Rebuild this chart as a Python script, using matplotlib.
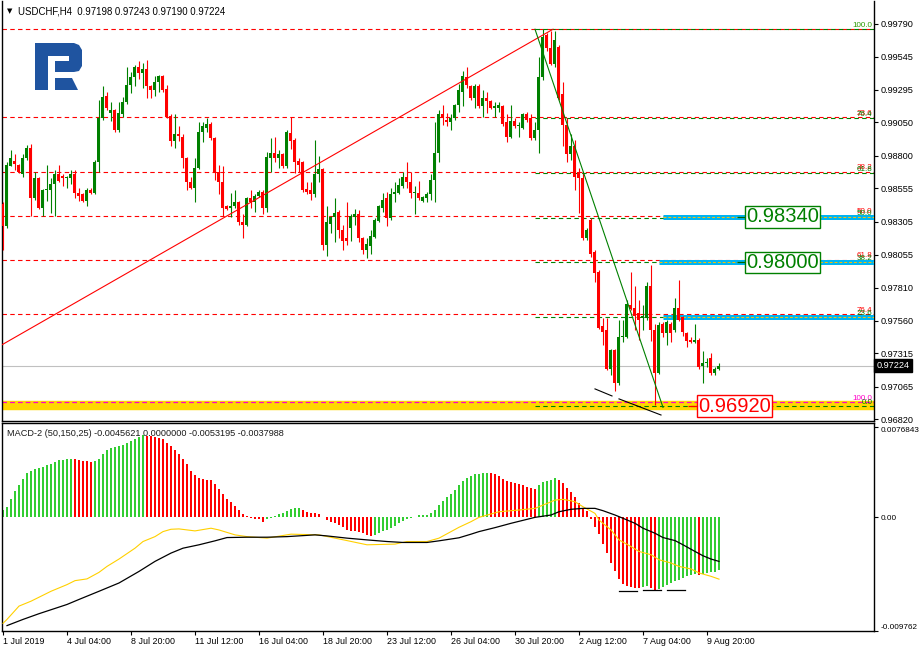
import matplotlib
matplotlib.use('Agg')
import matplotlib.pyplot as plt
import matplotlib.transforms as mtransforms
from matplotlib.patches import Polygon
import numpy as np

# ---------------- data ----------------
opens = [.9844,.9827,.9872,.9876,.9873,.9866,.9878,.9886,.9848,.9863,
         .9841,.9854,.9854,.9859,.9866,.9865,.9863,.9863,.9866,.9852,
         .9851,.9846,.9854,.9852,.9875,.9908,.9925,.9912,.9914,.9899,
         .9911,.9920,.9933,.9939,.9947,.9942,.9945,.9932,.9929,.9935,
         .9940,.9930,.9910,.9891,.9896,.9894,.9878,.9860,.9856,.9871,
         .9898,.9901,.9904,.9893,.9868,.9860,.9842,.9841,.9842,.9845,
         .9830,.9828,.9848,.9845,.9850,.9853,.9841,.9878,.9882,.9878,
         .9881,.9872,.9897,.9892,.9876,.9875,.9855,.9854,.9851,.9866,
         .9870,.9813,.9829,.9834,.9838,.9824,.9818,.9826,.9834,.9836,
         .9818,.9809,.9812,.9819,.9831,.9841,.9848,.9833,.9851,.9852,
         .9857,.9864,.9860,.9852,.9852,.9846,.9848,.9851,.9862,.9882,
         .9911,.9907,.9905,.9908,.9918,.9928,.9939,.9932,.9923,.9932,
         .9917,.9923,.9921,.9916,.9916,.9917,.9905,.9894,.9906,.9902,
         .9901,.9911,.9908,.9893,.9899,.9939,.9971,.9961,.9949,.9962,
         .9926,.9903,.9881,.9887,.9868,.9863,.9818,.9832,.9808,.9793,
         .9752,.9749,.9720,.9734,.9709,.9744,.9744,.9768,.9766,.9762,
         .9758,.9758,.9782,.9749,.9717,.9754,.9747,.9754,.9749,.9766,
         .9759,.9747,.9742,.9740,.9742,.9722,.9724,.9728,.9717,.97198]
highs = [.9845,.9875,.9884,.9881,.9874,.9881,.9888,.9889,.9868,.9864,
         .9855,.9873,.9863,.9869,.9873,.9866,.9865,.9869,.9869,.9856,
         .9852,.9856,.9856,.9877,.9922,.9932,.9928,.9920,.9915,.9920,
         .9924,.9947,.9943,.9948,.9951,.9950,.9952,.9933,.9940,.9941,
         .9941,.9933,.9911,.9911,.9902,.9896,.9879,.9864,.9878,.9905,
         .9905,.9908,.9905,.9894,.9873,.9872,.9843,.9852,.9854,.9846,
         .9836,.9849,.9854,.9851,.9854,.9854,.9883,.9893,.9894,.9884,
         .9882,.9899,.9909,.9893,.9878,.9876,.9860,.9860,.9892,.9880,
         .9871,.9842,.9835,.9848,.9839,.9828,.9845,.9836,.9840,.9839,
         .9819,.9818,.9824,.9833,.9843,.9852,.9853,.9856,.9860,.9863,
         .9868,.9875,.9868,.9857,.9861,.9850,.9853,.9866,.9905,.9914,
         .9918,.9912,.9911,.9919,.9934,.9944,.9947,.9933,.9934,.9934,
         .9929,.9928,.9922,.9920,.9920,.9918,.9911,.9918,.9908,.9905,
         .9912,.9913,.9911,.9905,.9954,.9975,.9972,.9974,.9974,.9963,
         .9935,.9908,.9896,.9892,.9871,.9867,.9826,.9833,.9809,.9794,
         .9758,.9758,.9735,.9735,.9757,.9757,.9772,.9793,.9782,.9772,
         .9768,.9785,.9798,.9754,.9755,.9755,.9757,.9755,.9773,.9787,
         .9760,.9748,.9744,.9754,.9743,.9733,.9728,.9732,.9721,.97243]
lows = [.9809,.9826,.9872,.9869,.9867,.9864,.9877,.9835,.9847,.9840,
        .9835,.9846,.9837,.9835,.9860,.9857,.9856,.9859,.9848,.9846,
        .9845,.9842,.9851,.9851,.9868,.9907,.9914,.9906,.9898,.9898,
        .9909,.9919,.9927,.9932,.9938,.9931,.9923,.9923,.9925,.9928,
        .9928,.9908,.9887,.9886,.9891,.9871,.9854,.9855,.9845,.9870,
        .9890,.9898,.9892,.9862,.9851,.9835,.9839,.9834,.9841,.9828,
        .9818,.9827,.9841,.9838,.9849,.9836,.9838,.9868,.9875,.9871,
        .9871,.9871,.9885,.9867,.9868,.9853,.9851,.9847,.9849,.9860,
        .9809,.9805,.9822,.9815,.9818,.9809,.9813,.9816,.9828,.9815,
        .9806,.9803,.9806,.9818,.9830,.9838,.9827,.9832,.9845,.9851,
        .9856,.9856,.9848,.9836,.9847,.9845,.9845,.9847,.9845,.9875,
        .9903,.9902,.9899,.9907,.9913,.9917,.9931,.9922,.9916,.9916,
        .9909,.9912,.9915,.9909,.9913,.9902,.9890,.9893,.9901,.9894,
        .9900,.9905,.9892,.9892,.9882,.9937,.9959,.9948,.9947,.9922,
        .9887,.9875,.9877,.9854,.9837,.9817,.9817,.9804,.9785,.9750,
        .9738,.9719,.9715,.9703,.9708,.9740,.9743,.9764,.9749,.9742,
        .9749,.9757,.9741,.9693,.9716,.9744,.9738,.9740,.9748,.9756,
        .9745,.9736,.9739,.9739,.9720,.9709,.9721,.9715,.9715,.97190]
closes = [.9827,.9873,.9878,.9874,.9868,.9878,.9886,.9848,.9863,.9841,
          .9854,.9855,.9859,.9866,.9861,.9863,.9864,.9866,.9852,.9850,
          .9846,.9854,.9852,.9875,.9908,.9924,.9916,.9914,.9899,.9912,
          .9920,.9933,.9939,.9947,.9942,.9945,.9932,.9929,.9935,.9940,
          .9929,.9909,.9891,.9896,.9895,.9878,.9860,.9856,.9871,.9898,
          .9902,.9904,.9893,.9868,.9860,.9841,.9840,.9842,.9845,.9830,
          .9828,.9848,.9845,.9850,.9853,.9841,.9879,.9882,.9878,.9881,
          .9872,.9898,.9891,.9875,.9873,.9854,.9853,.9851,.9866,.9870,
          .9813,.9830,.9834,.9837,.9824,.9816,.9816,.9835,.9836,.9818,
          .9809,.9814,.9820,.9832,.9842,.9847,.9833,.9851,.9853,.9858,
          .9864,.9860,.9852,.9853,.9848,.9849,.9851,.9862,.9882,.9911,
          .9908,.9905,.9908,.9918,.9929,.9940,.9933,.9923,.9932,.9917,
          .9923,.9921,.9916,.9917,.9918,.9904,.9894,.9906,.9902,.9903,
          .9911,.9907,.9893,.9899,.9939,.9969,.9961,.9949,.9967,.9923,
          .9903,.9881,.9887,.9864,.9863,.9818,.9824,.9806,.9792,.9751,
          .9748,.9720,.9734,.9709,.9744,.9745,.9769,.9765,.9760,.9757,
          .9760,.9782,.9749,.9717,.9753,.9747,.9755,.9747,.9766,.9757,
          .9748,.9741,.9740,.9742,.9721,.9724,.9725,.9717,.9720,.97224]

macd_hist = [0.00060,0.00082,0.00150,0.00221,0.00272,0.00323,0.00377,0.00394,0.00414,0.00417,
             0.00428,0.00443,0.00457,0.00471,0.00485,0.00491,0.00494,0.00496,0.00493,0.00485,
             0.00479,0.00477,0.00474,0.00477,0.00499,0.00542,0.00570,0.00590,0.00599,0.00604,
             0.00618,0.00633,0.00655,0.00670,0.00684,0.00698,0.00697,0.00692,0.00684,0.00675,
             0.00664,0.00633,0.00604,0.00570,0.00542,0.00499,0.00451,0.00394,0.00357,0.00338,
             0.00329,0.00321,0.00315,0.00281,0.00244,0.00196,0.00153,0.00131,0.00094,0.00060,
             0.00026,0.00009,-0.00006,-0.00017,-0.00020,-0.00040,-0.00017,-0.00006,0.00011,0.00026,
             0.00037,0.00051,0.00068,0.00074,0.00077,0.00060,0.00045,0.00034,0.00031,0.00028,
             0.00003,-0.00026,-0.00040,-0.00054,-0.00068,-0.00088,-0.00111,-0.00116,-0.00119,-0.00125,
             -0.00139,-0.00153,-0.00162,-0.00153,-0.00133,-0.00116,-0.00111,-0.00096,-0.00077,-0.00054,
             -0.00031,-0.00020,-0.00006,0.00001,0.00014,0.00017,0.00020,0.00031,0.00060,0.00102,
             0.00139,0.00173,0.00201,0.00230,0.00272,0.00309,0.00338,0.00352,0.00366,0.00372,
             0.00377,0.00380,0.00374,0.00366,0.00352,0.00329,0.00309,0.00298,0.00289,0.00281,
             0.00270,0.00258,0.00247,0.00238,0.00272,0.00301,0.00312,0.00321,0.00332,0.00321,
             0.00287,0.00250,0.00216,0.00173,0.00116,0.00079,0.00051,-0.00017,-0.00082,-0.00145,
             -0.00230,-0.00309,-0.00394,-0.00465,-0.00531,-0.00573,-0.00593,-0.00601,-0.00607,-0.00610,
             -0.00596,-0.00587,-0.00607,-0.00624,-0.00613,-0.00601,-0.00584,-0.00565,-0.00550,-0.00536,
             -0.00522,-0.00508,-0.00496,-0.00485,-0.00494,-0.00485,-0.00479,-0.00474,-0.00468,-0.00456]

yellow_bars = [0,1,4,7,12,16,18,21,24,26,29,33,35,38,40,42,44,48,52,54,58,61,66,72,79,83,86,91,98,
               101,106,109,114,117,119,122,124,129,133,136,138,140,142,143,145,148,149,152,154,157,
               159,162,164,167,169,172,174,177,179]
yellow_vals = [-0.00910,-0.00877,-0.00763,-0.00721,-0.00636,-0.00579,-0.00545,-0.00530,-0.00474,-0.00423,
               -0.00360,-0.00267,-0.00210,-0.00168,-0.00125,-0.00105,-0.00102,-0.00119,-0.00096,-0.00111,
               -0.00153,-0.00168,-0.00181,-0.00147,-0.00153,-0.00181,-0.00202,-0.00238,-0.00232,-0.00210,
               -0.00210,-0.00181,-0.00088,-0.00040,-0.00003,0.00026,0.00045,0.00060,0.00074,0.00116,
               0.00145,0.00151,0.00139,0.00130,0.00088,0.00031,-0.00026,-0.00111,-0.00196,-0.00253,
               -0.00295,-0.00323,-0.00366,-0.00394,-0.00423,-0.00445,-0.00479,-0.00508,-0.00532]
black_bars = [1,5,9,16,19,24,29,34,38,42,45,49,53,56,61,66,71,78,81,86,91,96,100,106,109,114,117,119,
              123,127,131,133,137,139,142,145,148,150,153,155,158,160,163,165,168,170,173,175,177,179]
black_vals = [-0.00930,-0.00877,-0.00828,-0.00749,-0.00706,-0.00636,-0.00565,-0.00466,-0.00380,-0.00309,
              -0.00267,-0.00238,-0.00204,-0.00176,-0.00173,-0.00173,-0.00168,-0.00153,-0.00162,-0.00181,
              -0.00196,-0.00210,-0.00218,-0.00218,-0.00204,-0.00178,-0.00147,-0.00125,-0.00091,-0.00054,
              -0.00020,-0.00003,0.00017,0.00045,0.00066,0.00074,0.00074,0.00054,0.00017,-0.00011,
              -0.00054,-0.00096,-0.00139,-0.00176,-0.00202,-0.00238,-0.00295,-0.00332,-0.00360,-0.00380]

price_ticks = [0.99790,0.99545,0.99295,0.99050,0.98800,0.98555,0.98305,0.98055,0.97810,
               0.97560,0.97315,0.97065,0.96820]
macd_ticks = [0.0076843, 0.0, -0.009762]
macd_tick_labels = ['0.0076843', '0.00', '-0.009762']
date_tick_bars = [0,16,32,48,64,80,96,112,128,144,160,176]
date_labels = ['1 Jul 2019','4 Jul 04:00','8 Jul 20:00','11 Jul 12:00','16 Jul 04:00','18 Jul 20:00',
               '23 Jul 12:00','26 Jul 04:00','30 Jul 20:00','2 Aug 12:00','7 Aug 04:00','9 Aug 20:00']

fib_ratios = [0.0, 23.6, 38.2, 50.0, 61.8, 76.4, 100.0]
red_fib_high, red_fib_low = 0.99750, 0.96950
green_fib_high, green_fib_low = 0.99750, 0.96920
green_fib_start = 133
target_levels = [0.98340, 0.98000, 0.97590]
target_starts = [165, 164, 165]
support_level = 0.96920
last_price = 0.97224
red_trend_bars, red_trend_prices = [-0.75, 137.5], [0.97372, 0.99750]
green_trend_bars, green_trend_prices = [133, 165], [0.99750, 0.96910]
black_seg1_bars, black_seg1_prices = [148, 152.25], [0.97049, 0.96996]
black_seg2_bars, black_seg2_prices = [154, 164.5], [0.96974, 0.96853]
macd_div_segments = [([154, 158.5], -0.00632), ([160, 164.5], -0.00628), ([166, 170.5], -0.00626)]
header = 'USDCHF,H4  0.97198 0.97243 0.97190 0.97224'
macd_header = 'MACD-2 (50,150,25) -0.0045621 0.0000000 -0.0053195 -0.0037988'

# ---------------- layout ----------------
W, H = 920, 654
fig = plt.figure(figsize=(9.2, 6.54), dpi=100)
fig.patch.set_facecolor('white')
FONT = 'Liberation Sans'

def rect(x0, y0, x1, y1):
    return [x0 / W, 1 - y1 / H, (x1 - x0) / W, (y1 - y0) / H]

ax = fig.add_axes(rect(2, 1, 874, 421))
ax2 = fig.add_axes(rect(2, 423, 874, 631), sharex=ax)
XMIN, XMAX = -0.25, 217.75
ax.set_xlim(XMIN, XMAX)
ax.set_ylim(0.96808, 0.99962)
ax2.set_ylim(-0.009762, 0.00805)

RED = '#ff0000'
GREEN_C = '#008000'
dash = (0, (4, 3))

# fib lines (red, full width)
red_levels = [red_fib_high - r / 100 * (red_fib_high - red_fib_low) for r in fib_ratios]
for r, p in zip(fib_ratios, red_levels):
    c = '#ff00c8' if r == 100.0 else RED
    ax.hlines(p, XMIN, XMAX, colors=c, lw=0.8, linestyles=dash, zorder=2)
# support band
ax.hlines(support_level + 0.00005, XMIN, XMAX, colors='#ffd700', lw=6.8, zorder=1)
ax.hlines(red_levels[-1], XMIN, XMAX, colors='#ff00c8', lw=0.8, linestyles=dash, zorder=2)
# green fib lines
green_levels = [green_fib_low + r / 100 * (green_fib_high - green_fib_low) for r in fib_ratios]
for r, p in zip(fib_ratios, green_levels):
    ax.hlines(p, green_fib_start, XMAX, colors=GREEN_C, lw=0.8, linestyles=dash, zorder=2)
# target lines (blue)
for lv, st in zip(target_levels, target_starts):
    ax.hlines(lv, st, XMAX, colors='#00b4f0', lw=3.6, zorder=3)
    ax.hlines(lv, st, XMAX, colors='#ffc000', lw=0.7, linestyles=(0, (3, 2)), zorder=3)

# last price line
ax.hlines(last_price, XMIN, XMAX, colors='#c0c0c0', lw=0.8, zorder=1)

# candles
x = np.arange(len(opens))
o, h, l, c = map(np.array, (opens, highs, lows, closes))
up = c >= o
cols = np.where(up, '#008000', '#ff0000')
ax.vlines(x, l, h, colors=cols, lw=0.8, zorder=4)
ax.bar(x, np.maximum(np.abs(c - o), 0.00006), 0.75, bottom=np.minimum(o, c), color=cols, lw=0, zorder=4)

# trend lines
ax.plot(red_trend_bars, red_trend_prices, color=RED, lw=0.8, zorder=5)
ax.plot(green_trend_bars, green_trend_prices, color=GREEN_C, lw=0.8, zorder=5)
ax.plot(black_seg1_bars, black_seg1_prices, color='black', lw=0.8, zorder=5)
ax.plot(black_seg2_bars, black_seg2_prices, color='black', lw=0.8, zorder=5)

# fib labels (overlapping pairs, as in the original terminal)
for r, p in zip(fib_ratios, red_levels):
    if r == 0.0:
        continue
    c_ = '#ff00c8' if r == 100.0 else RED
    ax.text(217.4, p + 0.00003, f'{r:.1f}', ha='right', va='bottom', fontsize=5.8,
            color=c_, family=FONT, zorder=6)
for r, p in zip(fib_ratios, green_levels):
    ax.text(217.4, p + 0.00003, f'{r:.1f}', ha='right', va='bottom', fontsize=5.8,
            color='#2a9a00' if r == 100.0 else GREEN_C, family=FONT, zorder=6)

# level boxes
for lv in target_levels[:2]:
    ax.hlines(lv, 183.5, 186, colors='#006400', lw=0.9, zorder=6)
    ax.text(194.9, lv, f'{lv:.5f}', ha='center', va='center', fontsize=14.5, family=FONT,
            color=GREEN_C, zorder=7,
            bbox=dict(boxstyle='square,pad=0.06', fc='white', ec=GREEN_C, lw=1.0))
ax.hlines(support_level, 171.2, 174, colors=RED, lw=0.9, zorder=6)
ax.text(182.9, support_level, f'{support_level:.5f}', ha='center', va='center', fontsize=14.5,
        family=FONT, color=RED, zorder=7,
        bbox=dict(boxstyle='square,pad=0.06', fc='white', ec=RED, lw=1.0))

# price axis
ax.yaxis.tick_right()
ax.set_yticks(price_ticks)
ax.set_yticklabels([f'{p:.5f}' for p in price_ticks])
ax.tick_params(axis='y', direction='out', length=3, width=0.8, pad=1.5, labelsize=6.6)
for t in ax.get_yticklabels():
    t.set_family(FONT)
ax.tick_params(axis='x', bottom=False, labelbottom=False)
ax.spines['top'].set_visible(False)
for s in ('left', 'right', 'bottom'):
    ax.spines[s].set_linewidth(1.0)

# last price tag
trans = mtransforms.blended_transform_factory(ax.transAxes, ax.transData)
trans = mtransforms.offset_copy(trans, fig=fig, x=2.5, y=0, units='dots')
ax.text(1.0, last_price, '0.97224', transform=trans, ha='left', va='center', fontsize=6.6,
        family=FONT, color='white', clip_on=False, zorder=8,
        bbox=dict(boxstyle='square,pad=0.25', fc='black', ec='black'))

# ---------------- MACD ----------------
hist = np.array(macd_hist)
prev = np.concatenate([[hist[0] - 1], hist[:-1]])
hcols = np.where(hist > prev, '#32cd32', '#ff0000')
ax2.bar(x, hist, 0.72, color=hcols, lw=0, zorder=2)
ax2.plot(yellow_bars, yellow_vals, color='#ffd000', lw=0.8, zorder=3)
ax2.plot(black_bars, black_vals, color='black', lw=0.9, zorder=3)
for bars_, v in macd_div_segments:
    ax2.plot(bars_, [v, v], color='black', lw=0.9, zorder=3)

ax2.yaxis.tick_right()
ax2.set_yticks(macd_ticks)
ax2.set_yticklabels(macd_tick_labels)
ax2.tick_params(axis='y', direction='out', length=3, width=0.8, pad=1.5, labelsize=5.9)
ylabs = ax2.get_yticklabels()
ylabs[0].set_va('top')
ylabs[2].set_va('bottom')
for t in ylabs:
    t.set_family(FONT)
ax2.set_xticks(date_tick_bars)
ax2.set_xticklabels(date_labels, ha='left')
ax2.tick_params(axis='x', direction='out', length=3, width=0.8, pad=1.5, labelsize=6.4)
for t in ax2.get_xticklabels():
    t.set_family(FONT)
for s in ax2.spines.values():
    s.set_linewidth(1.0)
ax2.set_xlim(XMIN, XMAX)

# ---------------- header texts & logo ----------------
fig.text(7 / W, 1 - 11 / H, '\u25BC', fontsize=5, va='center', ha='left', family='DejaVu Sans')
fig.text(18 / W, 1 - 11 / H, header, fontsize=6.9, va='center', ha='left', family=FONT)
fig.text(7 / W, 1 - 433.5 / H, macd_header, fontsize=6.6, va='center', ha='left', family=FONT,
         color='#1a1a1a')

ov = fig.add_axes([0, 0, 1, 1], zorder=10)
ov.set_xlim(0, W)
ov.set_ylim(H, 0)
ov.axis('off')
ov.patch.set_alpha(0)
logo_col = '#1f54a0'
ov.add_patch(Polygon([(35, 43), (48, 43), (48, 90), (35, 90)], closed=True, fc=logo_col, ec='none'))
ov.add_patch(Polygon([(48, 43), (74, 43), (79, 45), (82, 50), (82, 66), (79, 71), (74, 72),
                      (55, 72), (55, 61), (69, 61), (69, 56), (48, 56)], closed=True,
                     fc=logo_col, ec='none'))
ov.add_patch(Polygon([(55, 78), (72, 78), (78, 90), (55, 90)], closed=True, fc=logo_col, ec='none'))

fig.savefig('out.png', dpi=100)
